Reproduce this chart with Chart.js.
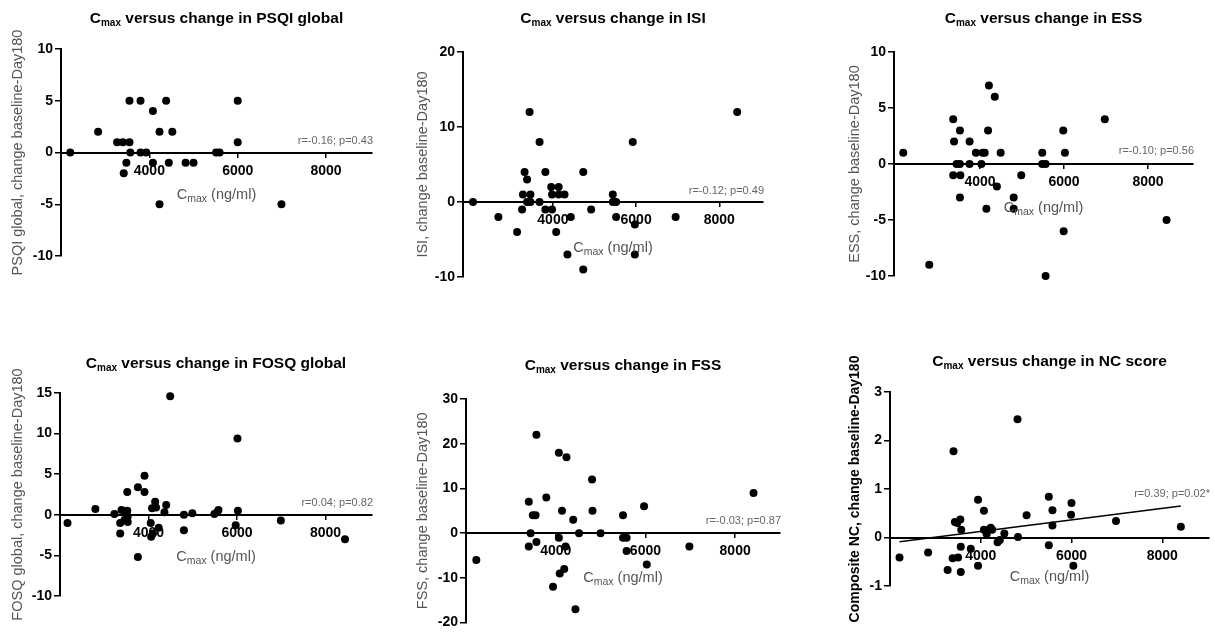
<!DOCTYPE html>
<html>
<head>
<meta charset="utf-8">
<script src="https://cdn.jsdelivr.net/npm/chart.js@4.4.1/dist/chart.umd.min.js"></script>
<style>
  body { margin: 0; background: #fff; }
  canvas { position: absolute; }
</style>
</head>
<body>
<canvas id="c1"></canvas>
<canvas id="c2"></canvas>
<canvas id="c3"></canvas>
<canvas id="c4"></canvas>
<canvas id="c5"></canvas>
<canvas id="c6"></canvas>
<script>
// x axis ticks shared by all panels
const cmaxTicks = [4000, 6000, 8000];

// PSQI global
const psqiCmax = [2210, 2840, 3270, 3400, 3550, 3550, 3570, 3480, 3420, 3800, 3800, 3930, 4080, 4080, 4230, 4230, 4380, 4440, 4520, 4820, 5000, 5510, 5590, 6000, 6000, 6990];
const psqiChange = [0, 2, 1, 1, 5, 1, 0, -1, -2, 5, 0, 0, 4, -1, 2, -5, 5, -1, 2, -1, -1, 0, 0, 5, 1, -5];

// ISI
const isiCmax = [2080, 2690, 3140, 3260, 3280, 3320, 3380, 3380, 3440, 3460, 3460, 3680, 3680, 3820, 3820, 3960, 3980, 3980, 4080, 4140, 4140, 4280, 4350, 4430, 4730, 4730, 4920, 5440, 5440, 5520, 5520, 5920, 5970, 5970, 6950, 8430];
const isiChange = [0, -2, -4, -1, 1, 4, 3, 0, 12, 1, 0, 8, 0, 4, -1, 2, 1, -1, -4, 2, 1, 1, -7, -2, 4, -9, -1, 1, 0, 0, -2, 8, -3, -7, -2, 12];

// ESS
const essCmax = [2170, 2790, 3360, 3380, 3360, 3440, 3520, 3520, 3530, 3520, 3750, 3750, 3900, 4030, 4060, 4110, 4150, 4190, 4210, 4350, 4400, 4490, 4800, 4800, 4980, 5480, 5480, 5560, 5560, 5980, 6020, 5990, 6970, 8440];
const essChange = [1, -9, 4, 2, -1, 0, 0, 3, -1, -3, 2, 0, 1, 0, 1, 1, -4, 3, 7, 6, -2, 1, -3, -4, -1, 1, 0, 0, -10, 3, 1, -6, 4, -5];

// FOSQ global
const fosqCmax = [2170, 2800, 3230, 3360, 3360, 3390, 3460, 3490, 3520, 3520, 3530, 3530, 3760, 3760, 3910, 3910, 4050, 4060, 4080, 4100, 4150, 4170, 4230, 4360, 4400, 4490, 4800, 4800, 4990, 5490, 5550, 5580, 5970, 6010, 6020, 6990, 8440];
const fosqChange = [-1.0, 0.7, 0.1, -1.0, -2.3, 0.6, -0.6, 0.2, 2.8, 0.5, -0.9, -0.2, 3.4, -5.2, 4.8, 2.8, -1.0, -2.7, 0.8, -2.3, 1.6, 0.9, -1.6, 0.3, 1.2, 14.6, 0.0, -1.9, 0.2, 0.1, 0.3, 0.6, -1.3, 9.4, 0.5, -0.7, -3.0];

// FSS
const fssCmax = [2230, 3400, 3400, 3440, 3490, 3550, 3570, 3570, 3790, 3940, 4070, 4070, 4090, 4140, 4190, 4220, 4240, 4390, 4440, 4520, 4810, 4820, 5000, 5500, 5500, 5580, 5580, 5970, 6030, 6980, 8410];
const fssChange = [-6, 7, -3, 0, 4, 4, 22, -2, 8, -12, 18, -1, -9, 5, -8, -3, 17, 3, -17, 0, 12, 5, 0, 4, -1, -1, -4, 6, -7, -3, 9];

// Composite NC
const ncCmax = [2210, 2840, 3270, 3380, 3400, 3430, 3480, 3500, 3550, 3560, 3560, 3570, 3780, 3940, 3940, 4070, 4070, 4130, 4160, 4220, 4250, 4370, 4420, 4520, 4810, 4820, 5010, 5500, 5500, 5580, 5580, 5990, 6000, 6040, 6980, 8410];
const ncChange = [-0.41, -0.31, -0.67, -0.43, 1.78, 0.32, 0.30, -0.41, 0.37, -0.19, -0.71, 0.16, -0.23, 0.78, -0.58, 0.55, 0.16, 0.07, 0.15, 0.20, 0.16, -0.10, -0.05, 0.08, 2.44, 0.01, 0.46, 0.84, -0.16, 0.56, 0.25, 0.47, 0.71, -0.58, 0.34, 0.22];
const ncFitCmax = [2210, 8410];
const ncFitChange = [-0.09, 0.65];

const FONT = '"Liberation Sans", Arial, sans-serif';
Chart.defaults.font.family = FONT;

// box = canvas [left, top, w, h]; area = [axisLeft, axisRight, top, bottom] in page px
const panels = [
  { id: 'c1', box: [0, 0, 400, 300], area: [61, 372, 49, 256], xr: [2000, 9040], yr: [-10, 10], step: 5,
    cmax: psqiCmax, change: psqiChange, title: ' versus change in PSQI global',
    yTitle: 'PSQI global, change baseline-Day180', note: 'r=-0.16; p=0.43',
    titleY: 17, xGap: 41, noteGap: 12, yGap: 43 },
  { id: 'c2', box: [400, 0, 410, 300], area: [463, 763, 52, 277], xr: [1840, 9050], yr: [-10, 20], step: 10,
    cmax: isiCmax, change: isiChange, title: ' versus change in ISI',
    yTitle: 'ISI, change baseline-Day180', note: 'r=-0.12; p=0.49',
    titleY: 17, xGap: 45, noteGap: 11, yGap: 40 },
  { id: 'c3', box: [810, 0, 405, 300], area: [894, 1193, 52, 276], xr: [1950, 9070], yr: [-10, 10], step: 5,
    cmax: essCmax, change: essChange, title: ' versus change in ESS',
    yTitle: 'ESS, change baseline-Day180', note: 'r=-0.10; p=0.56',
    titleY: 17, xGap: 43, noteGap: 13, yGap: 39 },
  { id: 'c4', box: [0, 300, 400, 333], area: [60, 372, 393, 596], xr: [2000, 9050], yr: [-10, 15], step: 5,
    cmax: fosqCmax, change: fosqChange, title: ' versus change in FOSQ global',
    yTitle: 'FOSQ global, change baseline-Day180', note: 'r=0.04; p=0.82',
    titleY: 362, xGap: 41, noteGap: 12, yGap: 42 },
  { id: 'c5', box: [400, 300, 410, 333], area: [466, 780, 399, 623], xr: [2000, 9000], yr: [-20, 30], step: 10,
    cmax: fssCmax, change: fssChange, title: ' versus change in FSS',
    yTitle: 'FSS, change baseline-Day180', note: 'r=-0.03; p=0.87',
    titleY: 364, xGap: 44, noteGap: 12, yGap: 43 },
  { id: 'c6', box: [810, 300, 405, 333], area: [890, 1209, 392, 586], xr: [2000, 9030], yr: [-1, 3], step: 1,
    cmax: ncCmax, change: ncChange, title: ' versus change in NC score',
    yTitle: 'Composite NC, change baseline-Day180', note: 'r=0.39; p=0.02*',
    titleY: 360, xGap: 38, noteGap: 44, yGap: 35, boldY: true,
    fit: { cmax: ncFitCmax, change: ncFitChange } }
];

// "C" + subscript "max" + rest, centred on cx
function drawSub(ctx, rest, cx, base, big, small, weight, color) {
  const fBig = weight + ' ' + big + 'px ' + FONT;
  const fSmall = weight + ' ' + small + 'px ' + FONT;
  ctx.font = fBig;
  const wC = ctx.measureText('C').width;
  const wR = ctx.measureText(rest).width;
  ctx.font = fSmall;
  const wM = ctx.measureText('max').width;
  let x = cx - (wC + wM + wR) / 2;
  ctx.fillStyle = color;
  ctx.textAlign = 'left';
  ctx.textBaseline = 'alphabetic';
  ctx.font = fBig; ctx.fillText('C', x, base); x += wC;
  ctx.font = fSmall; ctx.fillText('max', x, base + 3); x += wM;
  ctx.font = fBig; ctx.fillText(rest, x, base);
}

const panelText = {
  id: 'panelText',
  afterDraw(chart, args, o) {
    const { ctx, chartArea: a, scales } = chart;
    const y0 = scales.y.getPixelForValue(0);
    const cx = (a.left + a.right) / 2;
    ctx.save();
    drawSub(ctx, o.title, cx, o.titleY + 5.5, 15.5, 10, 'bold', '#000');
    drawSub(ctx, ' (ng/ml)', cx, y0 + o.xGap + 5, 14.5, 10.5, 'normal', '#555');
    ctx.font = '11px ' + FONT;
    ctx.fillStyle = '#666';
    ctx.textAlign = 'right';
    ctx.textBaseline = 'middle';
    ctx.fillText(o.note, a.right + 1, y0 - o.noteGap);
    ctx.restore();
  }
};

const Y_W = 60;

panels.forEach(p => {
  const [bx, by, bw, bh] = p.box;
  const [x0, x1, y0, y1] = p.area;
  const cv = document.getElementById(p.id);
  cv.width = bw; cv.height = bh;
  cv.style.left = bx + 'px'; cv.style.top = by + 'px';

  const datasets = [{
    data: p.cmax.map((v, i) => ({ x: v, y: p.change[i] })),
    backgroundColor: '#000',
    borderWidth: 0,
    pointRadius: 4,
    clip: false
  }];
  if (p.fit) {
    datasets.push({
      data: p.fit.cmax.map((v, i) => ({ x: v, y: p.fit.change[i] })),
      showLine: true,
      borderColor: '#000',
      borderWidth: 1.5,
      pointRadius: 0
    });
  }

  const ySize = p.boldY ? 14 : 14.5;
  const lh = ySize * 1.2;
  new Chart(cv, {
    type: 'scatter',
    data: { datasets },
    options: {
      responsive: false,
      animation: false,
      events: [],
      layout: { padding: { left: x0 - bx - Y_W, right: bx + bw - x1, top: y0 - by, bottom: by + bh - y1 } },
      plugins: {
        legend: { display: false },
        tooltip: { enabled: false },
        panelText: { title: p.title, titleY: p.titleY - by, xGap: p.xGap, note: p.note, noteGap: p.noteGap }
      },
      scales: {
        x: {
          type: 'linear',
          min: p.xr[0], max: p.xr[1],
          position: { y: 0 },
          grid: { drawOnChartArea: false, drawTicks: true, tickLength: 4, color: '#000', lineWidth: 1.5 },
          border: { display: true, color: '#000', width: 2 },
          ticks: { color: '#000', padding: 6, font: { size: 14, weight: 'bold' }, callback: v => String(v) },
          afterBuildTicks: s => { s.ticks = cmaxTicks.map(v => ({ value: v })); }
        },
        y: {
          min: p.yr[0], max: p.yr[1],
          grid: { drawOnChartArea: false, drawTicks: true, tickLength: 6, color: '#000', lineWidth: 1.5 },
          border: { display: true, color: '#000', width: 2 },
          ticks: { stepSize: p.step, color: '#000', padding: 2, font: { size: 14, weight: 'bold' }, callback: v => String(v) },
          title: {
            display: true, text: p.yTitle,
            color: p.boldY ? '#000' : '#555',
            font: { size: ySize, weight: p.boldY ? 'bold' : 'normal' },
            padding: { top: Y_W - p.yGap - lh / 2, bottom: 0 }
          },
          afterFit: s => { s.width = Y_W; }
        }
      }
    },
    plugins: [panelText]
  });
});
</script>
</body>
</html>
